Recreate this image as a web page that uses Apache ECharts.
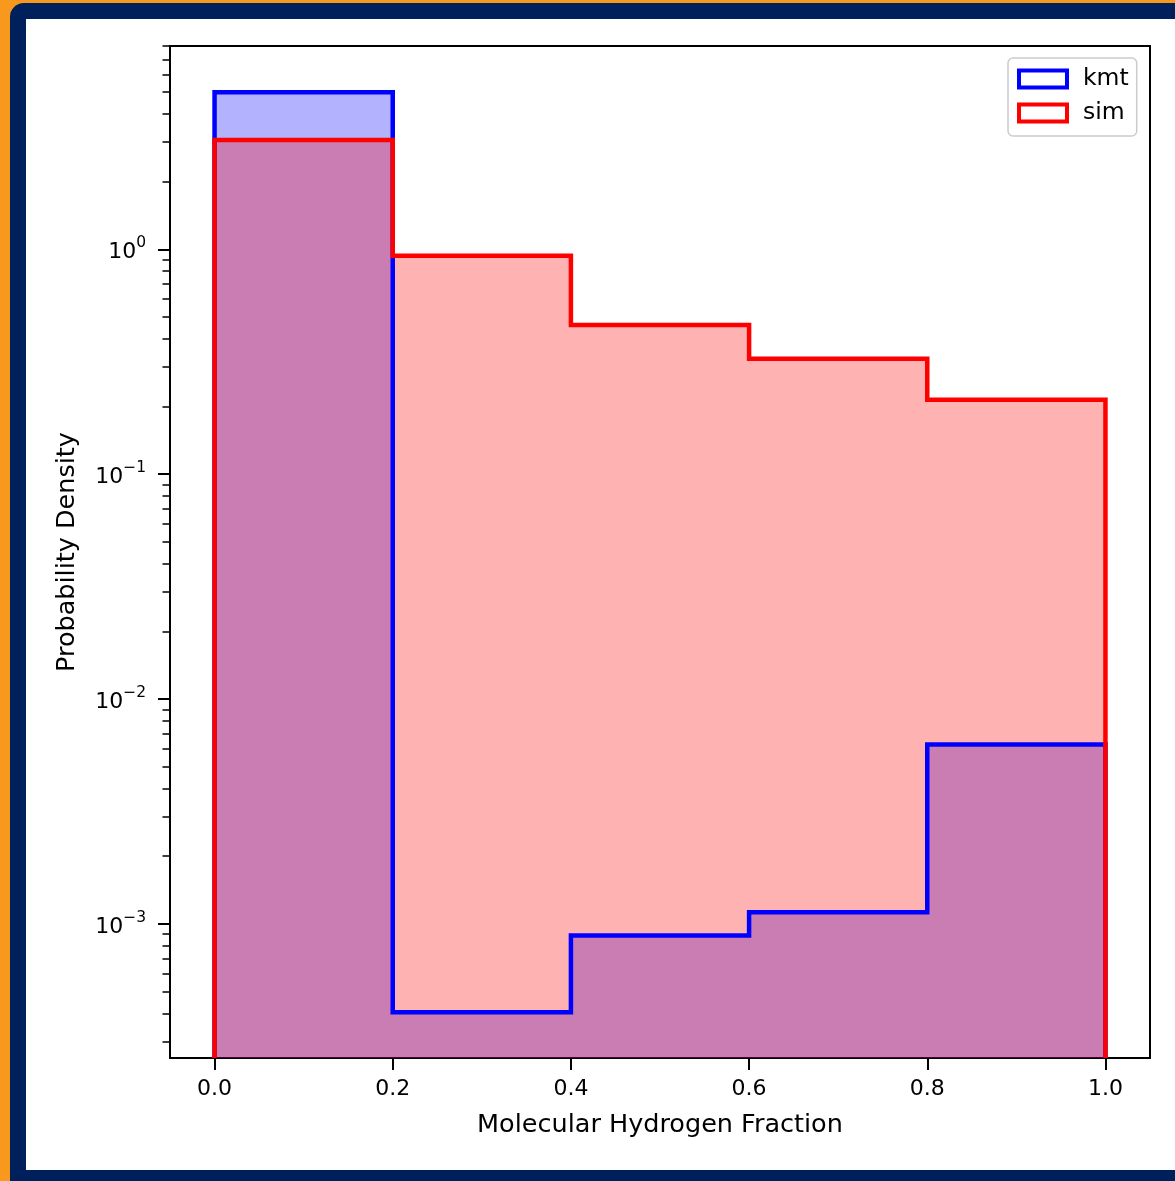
<!DOCTYPE html>
<html><head><meta charset="utf-8">
<script src="https://cdn.jsdelivr.net/npm/echarts@6/dist/echarts.min.js"></script>
<style>
html,body{margin:0;padding:0;width:1175px;height:1181px;overflow:hidden;background:#f8991d;}
#navy{position:absolute;left:10px;top:3px;width:1250px;height:1250px;background:#00205c;border-radius:14px;}
#white{position:absolute;left:26px;top:19px;width:1250px;height:1151px;background:#ffffff;}
#chart{position:absolute;left:0;top:0;width:1175px;height:1181px;}
</style></head><body>
<div id="navy"></div><div id="white"></div><div id="chart"></div>
<script>
// ---- data ----
const binEdges = [0.0, 0.2, 0.4, 0.6, 0.8, 1.0];
const kmtDensity = [4.99, 4.04e-4, 8.86e-4, 1.125e-3, 6.27e-3];
const simDensity = [3.06, 0.936, 0.4605, 0.326, 0.214];
const xTickValues = [0.0, 0.2, 0.4, 0.6, 0.8, 1.0];
const yMajorTicks = [1e-3, 1e-2, 1e-1, 1];
const yMinorMultipliers = [2, 3, 4, 5, 6, 7, 8, 9];
const seriesNames = ['kmt', 'sim'];
const X_MIN = -0.05, X_MAX = 1.05, Y_MIN = 2.53e-4, Y_MAX = 8.02;

const yMinorTicks = [];
[1e-4, 1e-3, 1e-2, 1e-1, 1].forEach(d => yMinorMultipliers.forEach(m => {
  const v = d * m; if (v >= Y_MIN && v <= Y_MAX) yMinorTicks.push(v);
}));

function stepPoints(vals) {
  const pts = [[binEdges[0], Y_MIN]];
  for (let i = 0; i < vals.length; i++) pts.push([binEdges[i], vals[i]]);
  pts.push([binEdges[binEdges.length - 1], vals[vals.length - 1]]);
  pts.push([binEdges[binEdges.length - 1], Y_MIN]);
  return pts;
}
const FONT = 'DejaVu Sans';
const BLUE = '#0000ff', RED = '#ff0000';

function fillSeries(name, vals, color) {
  return { name: name + '_fill', type: 'line', step: 'end', data: stepPoints(vals),
    showSymbol: false, symbol: 'none', silent: true, clip: true,
    lineStyle: { width: 0, opacity: 0 }, areaStyle: { color: color, opacity: 0.3, origin: 'start' } };
}
function edgeSeries(name, vals, color) {
  return { name: name, type: 'line', step: 'end', data: stepPoints(vals),
    showSymbol: false, symbol: 'none', silent: true, clip: true,
    lineStyle: { width: 4.5, color: color, join: 'miter' }, itemStyle: { color: color } };
}

const chart = echarts.init(document.getElementById('chart'), null, { renderer: 'canvas' });
chart.setOption({
  animation: false,
  backgroundColor: 'transparent',
  textStyle: { fontFamily: FONT, color: '#000' },
  grid: { left: 170, top: 46, right: 25, bottom: 123, show: true, borderColor: '#000', borderWidth: 2, backgroundColor: 'transparent' },
  legend: {
    orient: 'vertical', left: 1008, top: 58,
    backgroundColor: 'rgba(255,255,255,0.8)', borderColor: '#cccccc', borderWidth: 1.5, borderRadius: 5,
    padding: [9, 8, 11, 9], itemWidth: 48, itemHeight: 17, itemGap: 10,
    textStyle: { fontSize: 23.5, fontFamily: FONT, color: '#000', padding: [0, 0, 0, 11] },
    data: [
      { name: seriesNames[0], icon: 'rect', itemStyle: { color: '#fff', borderColor: BLUE, borderWidth: 4 } },
      { name: seriesNames[1], icon: 'rect', itemStyle: { color: '#fff', borderColor: RED, borderWidth: 4 } }
    ]
  },
  xAxis: {
    type: 'value', min: X_MIN, max: X_MAX,
    name: 'Molecular Hydrogen Fraction', nameLocation: 'middle', nameGap: 54,
    nameTextStyle: { fontSize: 25.5, fontFamily: FONT, color: '#000' },
    axisLine: { show: true, onZero: false, lineStyle: { color: '#000', width: 2 } },
    axisTick: { show: true, length: 12, lineStyle: { color: '#000', width: 2 }, customValues: xTickValues },
    axisLabel: { fontSize: 22, fontFamily: FONT, color: '#000', margin: 20, customValues: xTickValues,
      formatter: v => v.toFixed(1) },
    splitLine: { show: false }
  },
  yAxis: [{
    type: 'log', logBase: 10, min: Y_MIN, max: Y_MAX,
    name: 'Probability Density', nameLocation: 'middle', nameGap: 90,
    nameTextStyle: { fontSize: 25.5, fontFamily: FONT, color: '#000' },
    axisLine: { show: true, onZero: false, lineStyle: { color: '#000', width: 2 } },
    axisTick: { show: true, length: 12, lineStyle: { color: '#000', width: 2 }, customValues: yMajorTicks },
    axisLabel: { margin: 24, customValues: yMajorTicks,
      formatter: v => { const e = Math.round(Math.log10(v)); return '{b|10}{s|' + (e < 0 ? '\u2212' + (-e) : e) + '}'; },
      rich: {
        b: { fontSize: 22, fontFamily: FONT, color: '#000', lineHeight: 28, verticalAlign: 'bottom' },
        s: { fontSize: 15.5, fontFamily: FONT, color: '#000', lineHeight: 15.5, verticalAlign: 'top' }
      } },
    splitLine: { show: false }, minorTick: { show: false }
  }, {
    type: 'log', logBase: 10, min: Y_MIN, max: Y_MAX, position: 'left',
    axisLine: { show: false, onZero: false },
    axisTick: { show: true, length: 7.5, lineStyle: { color: '#000', width: 1.5 }, customValues: yMinorTicks },
    axisLabel: { show: false }, splitLine: { show: false }
  }],
  series: [
    fillSeries(seriesNames[0], kmtDensity, BLUE),
    fillSeries(seriesNames[1], simDensity, RED),
    edgeSeries(seriesNames[0], kmtDensity, BLUE),
    edgeSeries(seriesNames[1], simDensity, RED)
  ]
});
</script></body></html>
